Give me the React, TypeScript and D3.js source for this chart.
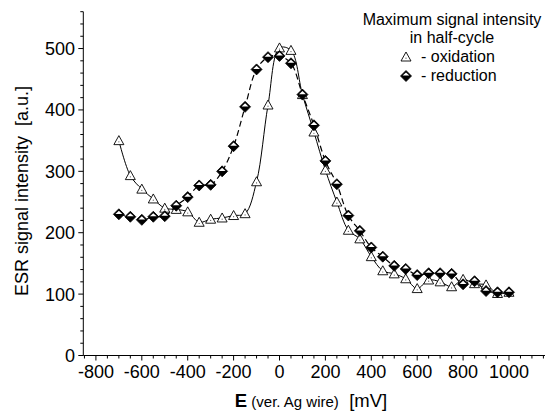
import React from 'react';
import * as d3 from 'd3';

// potentials (mV), every 50 mV from -700 to 1000
const potentials = d3.range(-700, 1001, 50);

// maximum ESR signal in the oxidation half-cycle (a.u.)
const oxidation = [
  350, 293, 271, 255, 240, 238, 234, 217, 222, 224, 228, 231, 283, 408, 501, 497,
  425, 364, 302, 250, 204, 190, 161, 138, 133, 125, 109, 123, 120, 112, 124, 117,
  115, 101, 103,
];

// maximum ESR signal in the reduction half-cycle (a.u.)
const reduction = [
  230, 226, 221, 226, 227, 244, 258, 277, 278, 300, 341, 405, 466, 486, 488, 476,
  425, 375, 317, 279, 228, 203, 176, 161, 146, 141, 131, 134, 134, 133, 116, 121,
  105, 103, 103,
];

const xMajor = d3.range(-800, 1001, 200);
const xMinor = d3.range(-850, 1151, 50);
const yMajor = d3.range(0, 501, 100);
const yMinor = d3.range(0, 561, 20);

const W = 545;
const H = 412;
const font = 'Liberation Sans, Arial, Helvetica, sans-serif';

const x = d3.scaleLinear().domain([-855, 1160]).range([83.3, 545.7]);
const y = d3.scaleLinear().domain([0, 560]).range([355.5, 11.7]);

const Triangle = ({ cx, cy }: { cx: number; cy: number }) => (
  <g transform={`translate(${cx},${cy})`}>
    <path d="M0,-5 L5,4 L-5,4 Z" fill="#fff" stroke="#000" strokeWidth={0.9} />
    <circle cx={0} cy={1.2} r={0.6} fill="#555" />
  </g>
);

const Diamond = ({ cx, cy }: { cx: number; cy: number }) => (
  <g transform={`translate(${cx},${cy})`}>
    <path d="M0,-5.5 L5.5,0 L0,5.5 L-5.5,0 Z" fill="#000" stroke="#000" strokeWidth={0.8} />
    <path d="M0,-3.6 L3.4,-0.4 L-3.4,-0.4 Z" fill="#fff" />
  </g>
);

export default function App() {
  const line = d3
    .line<number>()
    .x((_, i) => x(potentials[i]))
    .y((d) => y(d))
    .curve(d3.curveCatmullRom.alpha(0.5));

  const x0 = x.range()[0];
  const y0 = y(0);

  return (
    <svg width={W} height={H} style={{ display: 'block', position: 'absolute', left: 0, top: 0 }} fontFamily={font}>
      <rect width={W} height={H} fill="#fff" />

      {/* axes */}
      <line x1={x0} x2={W} y1={y0} y2={y0} stroke="#000" strokeWidth={1} />
      <line x1={x0} x2={x0} y1={y(560)} y2={y0} stroke="#000" strokeWidth={1} />

      {xMinor.map((v) => (
        <line key={'xm' + v} x1={x(v)} x2={x(v)} y1={y0} y2={y0 + (v % 200 === 0 ? 5 : 3)} stroke="#000" />
      ))}
      {xMajor.map((v) => (
        <text key={'xl' + v} x={x(v)} y={378} textAnchor="middle" fontSize={18}>
          {v}
        </text>
      ))}

      {yMinor.map((v) => (
        <line key={'ym' + v} x1={x0} x2={x0 - (v % 100 === 0 ? 5 : 3)} y1={y(v)} y2={y(v)} stroke="#000" />
      ))}
      {yMajor.map((v) => (
        <text key={'yl' + v} x={75} y={y(v)} dy="0.36em" textAnchor="end" fontSize={18}>
          {v}
        </text>
      ))}

      {/* axis titles */}
      <text transform="translate(28,191) rotate(-90)" textAnchor="middle" fontSize={18}>
        ESR signal intensity{'\u00a0\u00a0'}[a.u.]
      </text>
      <text x={311} y={407} textAnchor="middle" fontSize={18.5}>
        <tspan fontWeight="bold">E</tspan>
        <tspan fontSize={15}> (ver. Ag wire)</tspan>
        <tspan>{'\u00a0\u00a0'}[mV]</tspan>
      </text>

      {/* curves */}
      <path d={line(reduction) ?? ''} fill="none" stroke="#000" strokeWidth={1.2} strokeDasharray="6,3.5" />
      <path d={line(oxidation) ?? ''} fill="none" stroke="#000" strokeWidth={1} />

      {oxidation.map((v, i) => (
        <Triangle key={'o' + i} cx={x(potentials[i])} cy={y(v)} />
      ))}
      {reduction.map((v, i) => (
        <Diamond key={'r' + i} cx={x(potentials[i])} cy={y(v)} />
      ))}

      {/* legend */}
      <g fontSize={16}>
        <text x={452} y={25} textAnchor="middle">Maximum signal intensity</text>
        <text x={452} y={43} textAnchor="middle">in half-cycle</text>
        <Triangle cx={406} cy={57} />
        <text x={421} y={62}>- oxidation</text>
        <Diamond cx={406} cy={76} />
        <text x={421} y={81}>- reduction</text>
      </g>
    </svg>
  );
}
